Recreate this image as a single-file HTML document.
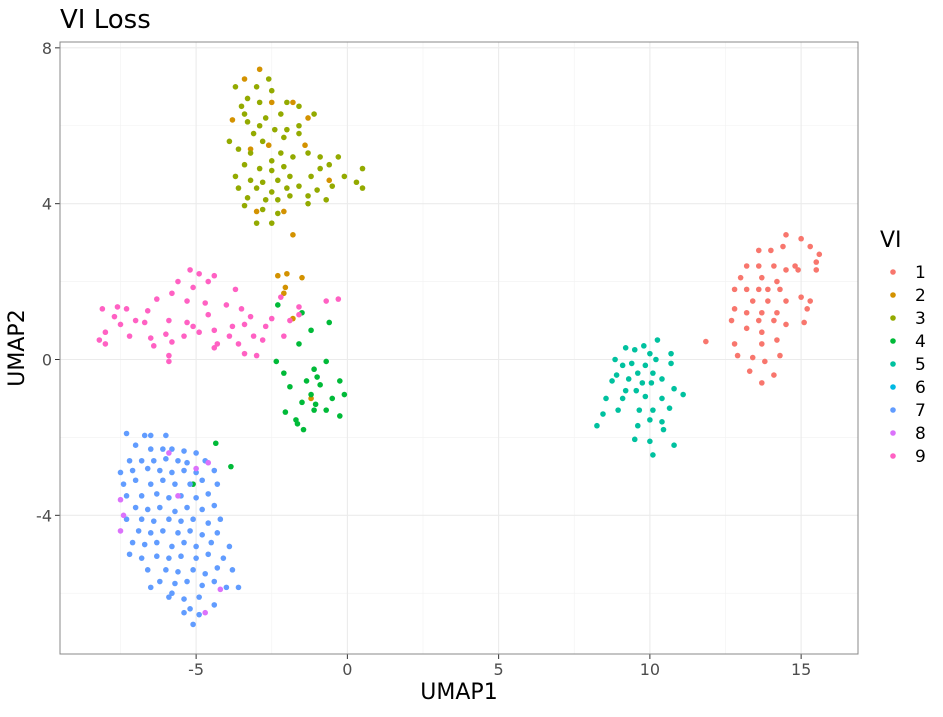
<!DOCTYPE html>
<html><head><meta charset="utf-8"><style>
body{margin:0;background:#fff;font-family:"Liberation Sans","DejaVu Sans",sans-serif}
</style></head><body>
<svg id="chart" width="943" height="712" xmlns="http://www.w3.org/2000/svg" font-family="DejaVu Sans, Liberation Sans, sans-serif">
<rect width="943" height="712" fill="#fff"/>
<text x="60" y="28" font-size="26" fill="#000">VI Loss</text>
<g id="grid"></g><g id="pts"></g><g id="axes"></g><g id="legend"></g>
</svg>
<script>
const xTicks=[-5,0,5,10,15];
const yTicks=[-4,0,4,8];
const groups=["1","2","3","4","5","6","7","8","9"];
const colors=["#F8766D","#D39200","#93AA00","#00BA38","#00C19F","#00B9E3","#619CFF","#DB72FB","#FF61C3"];
const g1=[[14.5,3.2],[15.0,3.1],[14.0,2.8],[13.6,2.8],[14.4,2.9],[15.3,2.9],[15.6,2.7],[13.2,2.4],[13.6,2.4],[14.1,2.4],[14.8,2.4],[15.5,2.5],[13.0,2.1],[13.7,2.1],[14.2,2.0],[14.5,2.3],[14.9,2.3],[15.5,2.3],[13.2,1.8],[13.6,1.8],[13.9,1.8],[14.3,1.8],[12.8,1.8],[13.4,1.5],[13.9,1.5],[14.5,1.5],[15.0,1.6],[15.3,1.5],[12.8,1.3],[13.2,1.2],[13.7,1.2],[14.2,1.2],[15.2,1.3],[12.7,1.0],[13.6,1.0],[14.1,1.0],[14.5,0.9],[15.1,0.95],[13.2,0.8],[13.7,0.7],[14.2,0.5],[12.8,0.4],[13.7,0.4],[12.9,0.1],[13.4,0.05],[13.8,-0.05],[14.3,0.1],[13.3,-0.3],[13.7,-0.6],[14.1,-0.4],[11.85,0.46]];
const g2=[[-2.9,7.45],[-3.4,7.2],[-2.5,6.6],[-3.8,6.15],[-1.8,6.6],[-1.3,6.2],[-3.2,5.4],[-2.6,5.5],[-1.4,5.5],[-0.6,4.6],[-3.0,3.8],[-2.1,3.8],[-1.8,3.2],[-2.3,2.15],[-2.0,2.2],[-1.5,2.1],[-2.05,1.85],[-2.1,1.7],[-1.8,1.05],[-1.2,-1.0]];
const g3=[[-3.7,7.0],[-3.0,7.0],[-2.6,7.2],[-2.5,6.9],[-3.3,6.7],[-2.9,6.6],[-3.5,6.5],[-2.0,6.6],[-1.6,6.5],[-3.4,6.3],[-2.2,6.3],[-2.7,6.2],[-1.1,6.3],[-3.3,6.1],[-2.9,6.0],[-1.6,6.0],[-2.4,5.9],[-2.0,5.9],[-3.1,5.8],[-3.9,5.6],[-3.6,5.4],[-2.8,5.6],[-2.1,5.7],[-1.6,5.8],[-3.2,5.3],[-2.5,5.1],[-2.2,5.3],[-1.8,5.2],[-1.3,5.3],[-0.9,5.2],[-3.4,5.0],[-2.9,4.9],[-2.5,4.85],[-2.1,4.95],[-0.3,5.2],[-0.6,5.0],[-0.1,4.7],[-3.7,4.7],[-3.2,4.6],[-2.8,4.55],[-2.3,4.6],[-1.9,4.7],[-1.2,4.7],[-0.9,4.9],[0.5,4.9],[-3.6,4.4],[-3.0,4.4],[-2.5,4.3],[-2.0,4.4],[-1.6,4.45],[-1.0,4.35],[-0.5,4.45],[0.3,4.55],[0.5,4.4],[-3.3,4.15],[-2.7,4.1],[-2.3,4.1],[-1.9,4.2],[-1.3,4.2],[-0.7,4.1],[-3.4,3.95],[-2.8,3.85],[-2.3,3.75],[-1.3,4.0],[-3.0,3.5],[-2.5,3.5]];
const g4=[[-2.3,1.4],[-1.5,1.2],[-1.2,0.75],[-0.6,0.95],[-1.6,0.4],[-2.35,-0.05],[-2.1,-0.35],[-1.1,-0.25],[-0.7,-0.05],[-1.9,-0.7],[-1.0,-0.45],[-1.35,-0.55],[-0.9,-0.65],[-0.25,-0.55],[-0.5,-1.0],[-0.1,-0.9],[-1.2,-0.9],[-1.05,-1.15],[-1.5,-1.1],[-0.7,-1.3],[-2.05,-1.35],[-1.7,-1.55],[-1.45,-1.8],[-1.65,-1.65],[-0.25,-1.45],[-1.1,-1.3],[-4.35,-2.15],[-3.85,-2.75],[-5.1,-3.2]];
const g5=[[10.25,0.5],[9.8,0.35],[9.5,0.25],[9.2,0.3],[10.0,0.15],[10.7,0.15],[8.85,0],[9.1,-0.15],[9.4,-0.1],[9.85,-0.15],[10.2,0],[10.7,-0.1],[8.9,-0.4],[9.6,-0.35],[10.1,-0.35],[8.75,-0.55],[9.3,-0.5],[9.75,-0.6],[10.4,-0.5],[9.2,-0.8],[9.55,-0.8],[10.05,-0.6],[10.8,-0.75],[11.1,-0.9],[8.55,-1.0],[9.1,-1.0],[9.85,-0.95],[10.4,-1.0],[8.45,-1.4],[8.95,-1.3],[9.65,-1.3],[10.1,-1.3],[10.65,-1.25],[10.0,-1.55],[10.4,-1.6],[9.6,-1.7],[8.25,-1.7],[9.5,-2.05],[10.0,-2.1],[10.8,-2.2],[10.1,-2.45],[10.45,-1.8]];
const g6=[];
const g7=[[-7.3,-1.9],[-6.7,-1.95],[-6.5,-1.95],[-6.0,-1.95],[-7.0,-2.2],[-6.5,-2.3],[-6.1,-2.3],[-5.8,-2.3],[-5.4,-2.35],[-5.0,-2.4],[-7.2,-2.6],[-6.8,-2.6],[-6.4,-2.6],[-6.0,-2.55],[-5.6,-2.6],[-5.3,-2.65],[-4.7,-2.6],[-7.5,-2.9],[-7.1,-2.85],[-6.6,-2.8],[-6.2,-2.85],[-5.8,-2.9],[-5.4,-2.85],[-5.0,-2.9],[-4.4,-2.85],[-7.4,-3.2],[-7.0,-3.1],[-6.5,-3.2],[-6.1,-3.1],[-5.7,-3.2],[-5.2,-3.2],[-4.8,-3.1],[-4.3,-3.2],[-7.3,-3.5],[-6.8,-3.5],[-6.3,-3.45],[-5.9,-3.55],[-5.5,-3.5],[-5.0,-3.55],[-4.6,-3.45],[-7.0,-3.8],[-6.6,-3.85],[-6.2,-3.8],[-5.7,-3.9],[-5.3,-3.8],[-4.8,-3.85],[-4.4,-3.75],[-7.3,-4.1],[-6.8,-4.1],[-6.4,-4.15],[-5.9,-4.1],[-5.5,-4.15],[-5.1,-4.1],[-4.6,-4.2],[-4.2,-4.1],[-6.9,-4.4],[-6.5,-4.45],[-6.1,-4.4],[-5.6,-4.45],[-5.2,-4.4],[-4.8,-4.5],[-4.3,-4.45],[-7.1,-4.7],[-6.7,-4.75],[-6.3,-4.7],[-5.8,-4.8],[-5.4,-4.7],[-5.0,-4.8],[-4.5,-4.7],[-3.9,-4.8],[-7.2,-5.0],[-6.8,-5.1],[-6.3,-5.05],[-5.9,-5.1],[-5.5,-5.05],[-5.0,-5.1],[-4.6,-5.0],[-4.1,-5.1],[-6.6,-5.4],[-6.0,-5.4],[-5.6,-5.45],[-5.1,-5.4],[-4.7,-5.5],[-4.3,-5.35],[-3.8,-5.4],[-6.2,-5.7],[-5.7,-5.75],[-5.3,-5.7],[-4.8,-5.8],[-4.4,-5.7],[-4.0,-5.85],[-6.5,-5.85],[-3.6,-5.85],[-5.9,-6.1],[-5.4,-6.15],[-4.9,-6.1],[-4.4,-6.3],[-5.2,-6.4],[-4.9,-6.55],[-5.4,-6.5],[-5.1,-6.8],[-5.8,-6.0]];
const g8=[[-7.5,-3.6],[-7.5,-4.4],[-7.4,-4.0],[-5.9,-2.4],[-5.0,-2.8],[-4.6,-2.65],[-5.6,-3.5],[-4.7,-6.5],[-4.2,-5.9]];
const g9=[[-5.2,2.3],[-4.9,2.2],[-4.4,2.15],[-5.6,2.0],[-4.6,2.0],[-5.1,1.85],[-5.8,1.7],[-3.7,1.8],[-6.3,1.55],[-5.3,1.5],[-4.7,1.45],[-7.6,1.35],[-7.3,1.3],[-8.1,1.3],[-6.6,1.25],[-4.0,1.4],[-3.5,1.3],[-2.2,1.6],[-1.6,1.35],[-0.7,1.5],[-0.3,1.55],[-7.7,1.1],[-7.0,1.0],[-6.7,0.95],[-5.9,1.0],[-5.3,0.95],[-4.6,1.15],[-3.2,1.1],[-2.5,1.05],[-7.5,0.9],[-6.0,0.65],[-5.1,0.85],[-4.4,0.75],[-3.8,0.85],[-3.4,0.9],[-2.7,0.85],[-1.9,1.0],[-8.0,0.7],[-7.2,0.6],[-6.5,0.55],[-5.4,0.6],[-4.9,0.7],[-3.9,0.6],[-3.1,0.6],[-2.8,0.5],[-8.2,0.5],[-6.4,0.35],[-5.8,0.45],[-4.4,0.3],[-3.6,0.4],[-2.1,0.6],[-8.0,0.4],[-5.9,0.1],[-4.3,0.4],[-3.4,0.15],[-3.0,0.1],[-5.9,-0.05],[-1.6,1.15]];
const series=[g1,g2,g3,g4,g5,g6,g7,g8,g9];

const L=60,R=858,T=42,B=654;
const xMin=-9.5,xMax=16.88,yMin=-7.56,yMax=8.15;
const sx=v=>L+(v-xMin)/(xMax-xMin)*(R-L);
const sy=v=>B-(v-yMin)/(yMax-yMin)*(B-T);
const NS="http://www.w3.org/2000/svg";
function mk(tag,attrs,parent){const e=document.createElementNS(NS,tag);for(const k in attrs)e.setAttribute(k,attrs[k]);parent.appendChild(e);return e;}
const grid=document.getElementById('grid'),pts=document.getElementById('pts'),axes=document.getElementById('axes'),leg=document.getElementById('legend');
// minor grid
for(let i=0;i<xTicks.length+1;i++){const v=xTicks[0]-2.5+5*i;const x=sx(v);if(x>L&&x<R){const l=mk('line',{x1:x,x2:x,y1:T,y2:B,stroke:'#f2f2f2','stroke-width':0.6},grid);

}}
for(let i=0;i<yTicks.length+1;i++){const v=yTicks[0]-2+4*i;const y=sy(v);if(y>T&&y<B){const l=mk('line',{x1:L,x2:R,y1:y,y2:y,stroke:'#f2f2f2','stroke-width':0.6},grid);

}}
xTicks.forEach(v=>{const x=sx(v);
const l=mk('line',{x1:x,x2:x,y1:T,y2:B,stroke:'#ebebeb','stroke-width':1.1},grid);


mk('line',{x1:x,x2:x,y1:B,y2:B+5,stroke:'#333','stroke-width':1},axes);
const t=mk('text',{x:x,y:B+21,'font-size':16,fill:'#4d4d4d','text-anchor':'middle'},axes);t.textContent=v;

});
yTicks.forEach(v=>{const y=sy(v);
const l=mk('line',{x1:L,x2:R,y1:y,y2:y,stroke:'#ebebeb','stroke-width':1.1},grid);


mk('line',{x1:L-5,x2:L,y1:y,y2:y,stroke:'#333','stroke-width':1},axes);
const t=mk('text',{x:L-8,y:y+6,'font-size':16,fill:'#4d4d4d','text-anchor':'end'},axes);t.textContent=v;

});
const border=mk('rect',{x:L,y:T,width:R-L,height:B-T,fill:'none',stroke:'#888','stroke-width':1},axes);


series.forEach((s,i)=>{s.forEach(p=>{const c=mk('circle',{cx:sx(p[0]),cy:sy(p[1]),r:2.8,fill:colors[i]},pts);

});});
const xt=mk('text',{x:(L+R)/2,y:699,'font-size':22,fill:'#000','text-anchor':'middle'},axes);xt.textContent='UMAP1';


const yt=mk('text',{x:0,y:0,'font-size':22,fill:'#000','text-anchor':'middle',transform:'translate(24,'+((T+B)/2)+') rotate(-90)'},axes);yt.textContent='UMAP2';


const lt=mk('text',{x:880,y:247,'font-size':22,fill:'#000'},leg);lt.textContent='VI';


groups.forEach((g,i)=>{const y=272+i*23;
const c=mk('circle',{cx:893,cy:y,r:2.8,fill:colors[i]},leg);


const t=mk('text',{x:915,y:y+6,'font-size':17,fill:'#000'},leg);t.textContent=g;

});
</script>
</body></html>
